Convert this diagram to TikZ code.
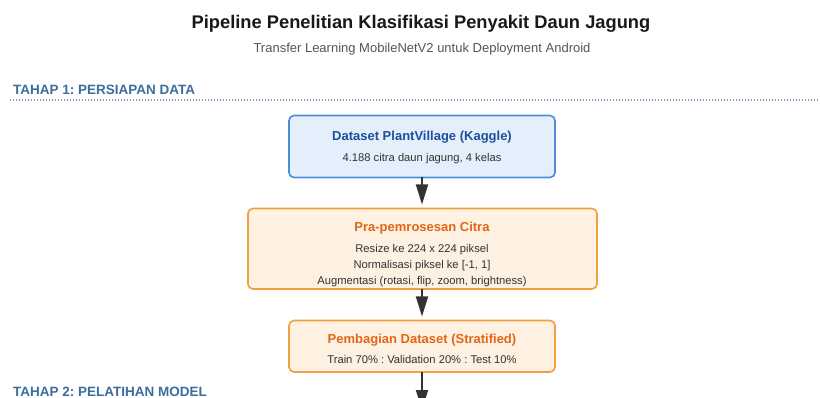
\documentclass[tikz,border=0pt]{standalone}
\usepackage{fontspec}
\setmainfont{Liberation Sans}
\usetikzlibrary{arrows.meta}
\definecolor{bluefill}{HTML}{E3F0FB}
\definecolor{blueline}{HTML}{4A90D9}
\definecolor{bluetext}{HTML}{1F4E9A}
\definecolor{orgfill}{HTML}{FEF1E1}
\definecolor{orgline}{HTML}{F0A040}
\definecolor{orgtext}{HTML}{E0661A}
\definecolor{stagetext}{HTML}{3D6D9E}
\definecolor{bodytext}{HTML}{333333}
\definecolor{subtext}{HTML}{555555}
\tikzset{
  box/.style={draw, rounded corners=5pt, line width=1.6pt, inner sep=0pt},
  bluebox/.style={box, draw=blueline, fill=bluefill},
  orgbox/.style={box, draw=orgline, fill=orgfill},
  flow/.style={draw=bodytext, line width=1.8pt, -{Triangle[length=20pt,width=12pt]}, shorten >=4pt},
  stage/.style={anchor=base west, inner sep=0pt, text=stagetext, font=\fontsize{13.5}{15}\selectfont\bfseries},
  sep/.style={draw=stagetext!70, line width=1.1pt, dash pattern=on 1.2pt off 1.8pt},
  btitle/.style={anchor=base, inner sep=0pt, font=\fontsize{13}{15}\selectfont\bfseries},
  bline/.style={anchor=base, inner sep=0pt, text=bodytext, font=\fontsize{11.2}{13}\selectfont},
}
\begin{document}
\frenchspacing
\begin{tikzpicture}[x=1pt,y=-1pt]
\useasboundingbox[fill=white] (0,0) rectangle (820,398);
\node[anchor=base, inner sep=0pt, font=\fontsize{18.3}{21}\selectfont\bfseries, text=black!90] (title) at (421,28.5) {Pipeline Penelitian Klasifikasi Penyakit Daun Jagung};
\node[anchor=base, inner sep=0pt, font=\fontsize{13}{15}\selectfont, text=subtext] (subtitle) at (422,52.5) {Transfer Learning MobileNetV2 untuk Deployment Android};

\node[stage] (st1) at (13,95) {TAHAP 1: PERSIAPAN DATA};
\coordinate (s1a) at (10,100);
\coordinate (s1b) at (820,100);
\draw[sep] (s1a) -- (s1b);

\path[bluebox] (289,115.5) rectangle (555,177.5);
\node[btitle, text=bluetext] (b1t) at (422,140.5) {Dataset PlantVillage (Kaggle)};
\node[bline] (b1l) at (422,161.5) {4.188 citra daun jagung, 4 kelas};
\coordinate (b1bot) at (422,177.5);
\coordinate (b2top) at (422,208.5);
\draw[flow] (b1bot) -- (b2top);

\path[orgbox] (248,208.5) rectangle (597,289);
\node[btitle, text=orgtext] (b2t) at (422,231.5) {Pra-pemrosesan Citra};
\node[bline] (b2a) at (422,252.5) {Resize ke 224 x 224 piksel};
\node[bline] (b2b) at (422,269) {Normalisasi piksel ke [-1, 1]};
\node[bline] (b2c) at (422,285) {Augmentasi (rotasi, flip, zoom, brightness)};
\coordinate (b2bot) at (422,289);
\coordinate (b3top) at (422,320.5);
\draw[flow] (b2bot) -- (b3top);

\path[orgbox] (289,320.5) rectangle (555,372);
\node[btitle, text=orgtext] (b3t) at (422,343.5) {Pembagian Dataset (Stratified)};
\node[bline] (b3l) at (422,363) {Train 70\% : Validation 20\% : Test 10\%};
\coordinate (b3bot) at (422,372);
\coordinate (nextTop) at (422,414);
\draw[flow] (b3bot) -- (nextTop);

\node[stage] (st2) at (13,396) {TAHAP 2: PELATIHAN MODEL};
\end{tikzpicture}
\end{document}
